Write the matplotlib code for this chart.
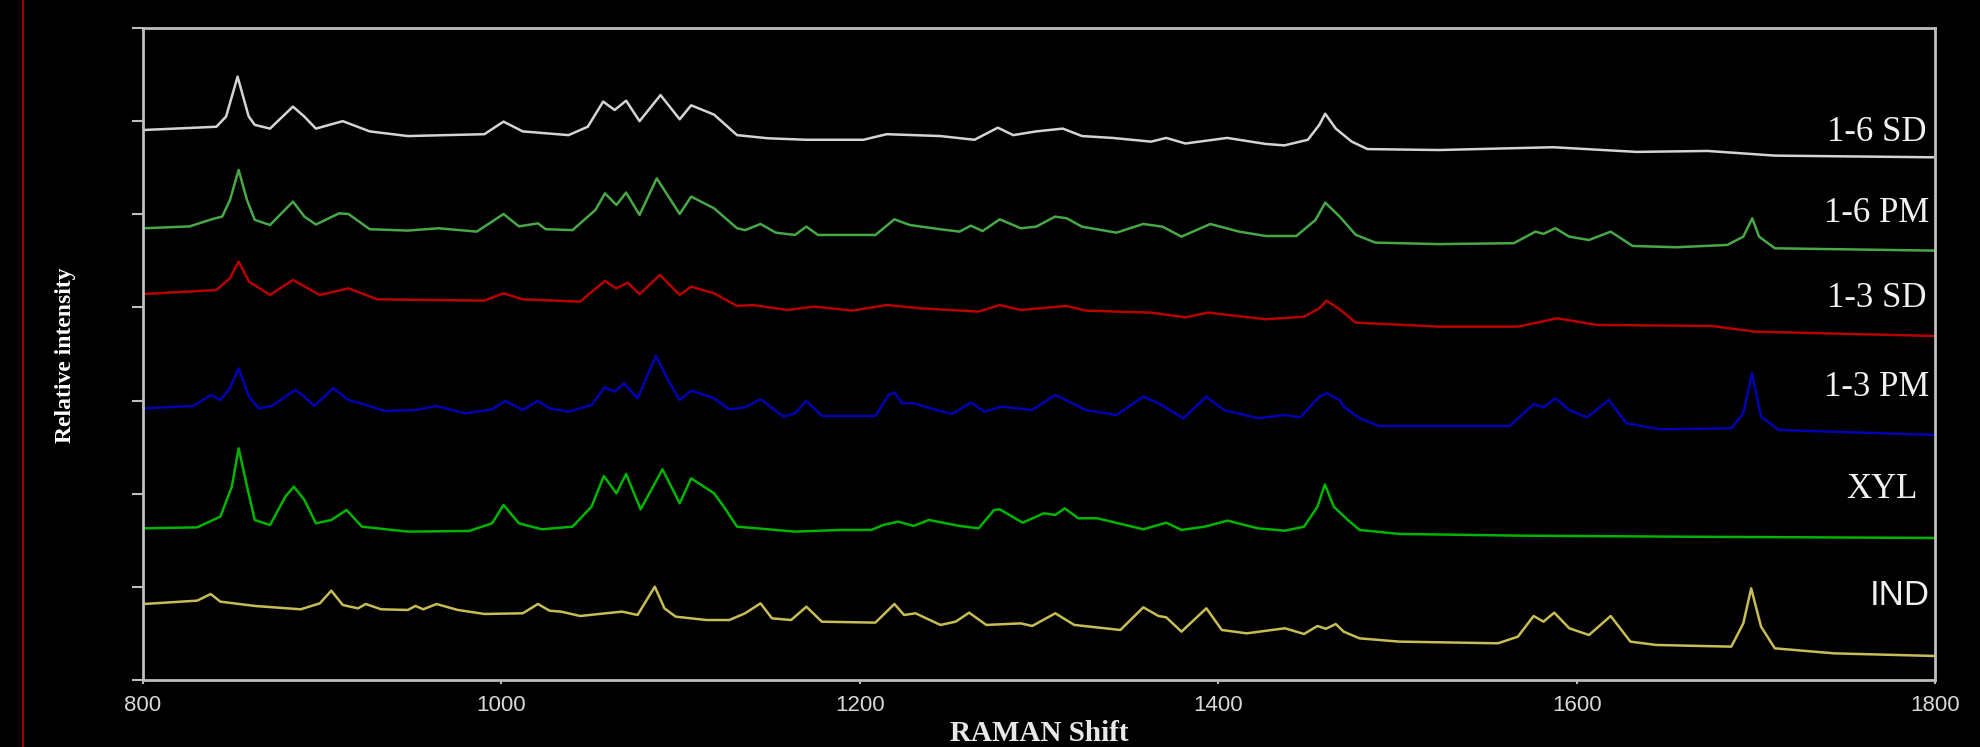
import numpy as np
import matplotlib
matplotlib.use('Agg')
import matplotlib.pyplot as plt
from matplotlib.lines import Line2D

# spectra: (Raman shift, stacked relative intensity)
sd16 = [(800.4, 5.905), (841, 5.94), (846.4, 6.05), (852.8, 6.478), (859, 6.05), (862.4, 5.96),
        (870.9, 5.92), (883.7, 6.156), (890, 6.05), (896.5, 5.92), (911.5, 6.00), (926.5, 5.89),
        (947.8, 5.84), (990.5, 5.86), (1001.2, 5.995), (1011.9, 5.89), (1037.5, 5.85), (1048.2, 5.94),
        (1056.8, 6.21), (1063.2, 6.12), (1069.6, 6.22), (1077.1, 6.00), (1088.8, 6.28), (1099.5, 6.02),
        (1105.9, 6.17), (1118.7, 6.07), (1131.5, 5.85), (1148.9, 5.816), (1170.2, 5.80), (1202, 5.80),
        (1215, 5.86), (1245, 5.84), (1264, 5.80), (1277, 5.93), (1285.6, 5.85), (1298.4, 5.89),
        (1313.3, 5.92), (1324, 5.84), (1341, 5.82), (1362.5, 5.78), (1371, 5.82), (1381.7, 5.76),
        (1405, 5.82), (1426.5, 5.755), (1437, 5.74), (1450, 5.80), (1456.4, 5.96), (1459.7, 6.08),
        (1465.6, 5.92), (1474.5, 5.78), (1483.3, 5.70), (1523, 5.69), (1587, 5.72), (1633.4, 5.67),
        (1673, 5.68), (1710.6, 5.63), (1799, 5.612)]

pm16 = [(800.4, 4.85), (826, 4.87), (839, 4.95), (844.2, 4.975), (848.5, 5.15), (853.4, 5.476),
        (858.1, 5.15), (862.4, 4.94), (870.9, 4.885), (883.7, 5.136), (890.1, 4.975), (896.5, 4.89),
        (909.4, 5.01), (914.7, 5.003), (926.5, 4.84), (947.8, 4.825), (964.9, 4.85), (986.3, 4.814),
        (1001.2, 5.003), (1009.8, 4.87), (1020.4, 4.903), (1024.7, 4.84), (1039.7, 4.83), (1052.5, 5.047),
        (1057.8, 5.225), (1064.2, 5.10), (1069.6, 5.233), (1077.1, 4.993), (1086.7, 5.386), (1099.5, 5.003),
        (1105.9, 5.19), (1118.7, 5.064), (1131.5, 4.85), (1136, 4.83), (1144.6, 4.896), (1153.1, 4.803),
        (1163.8, 4.778), (1170.2, 4.868), (1176.6, 4.778), (1208.7, 4.778), (1219.3, 4.946), (1227.9, 4.885),
        (1245, 4.839), (1255.7, 4.814), (1262, 4.878), (1268.5, 4.82), (1278.1, 4.946), (1289.8, 4.85),
        (1298.4, 4.867), (1309, 4.975), (1315.5, 4.957), (1324, 4.867), (1343.2, 4.803), (1358.2, 4.896),
        (1368.9, 4.867), (1379.5, 4.76), (1395.6, 4.896), (1411.6, 4.814), (1426.5, 4.767), (1443.6, 4.767),
        (1454.3, 4.94), (1459.7, 5.125), (1467.8, 4.975), (1476.7, 4.78), (1487.7, 4.696), (1523, 4.68),
        (1565, 4.69), (1577, 4.814), (1581.5, 4.79), (1588.1, 4.85), (1595.9, 4.76), (1606.9, 4.724),
        (1619, 4.814), (1631.2, 4.66), (1655.4, 4.646), (1684.1, 4.671), (1693, 4.76), (1698, 4.957),
        (1701.8, 4.76), (1710.6, 4.635), (1799, 4.61)]

sd13 = [(800.4, 4.144), (841, 4.187), (848.5, 4.313), (853.4, 4.492), (859.2, 4.277), (870.9, 4.134),
        (883.7, 4.295), (898.7, 4.134), (914.7, 4.205), (930.7, 4.087), (990.5, 4.073), (1001.2, 4.152),
        (1011.9, 4.087), (1043.9, 4.062), (1057.8, 4.284), (1064.2, 4.205), (1070.6, 4.266), (1077.1, 4.141),
        (1088.4, 4.349), (1099.5, 4.134), (1105.9, 4.223), (1118.7, 4.152), (1131.5, 4.016), (1140.3, 4.026),
        (1159.5, 3.973), (1174.5, 4.009), (1195.9, 3.966), (1215, 4.026), (1234.3, 3.99), (1266.3, 3.955),
        (1278.1, 4.026), (1289.8, 3.973), (1315.5, 4.016), (1326.1, 3.966), (1362.5, 3.944), (1381.7, 3.894),
        (1394.5, 3.944), (1426.5, 3.873), (1447.9, 3.901), (1456.4, 3.99), (1460.4, 4.073), (1467.8, 3.98),
        (1476.7, 3.837), (1523, 3.794), (1567.2, 3.794), (1589.2, 3.883), (1611.3, 3.812), (1675.3, 3.801),
        (1699.6, 3.74), (1799, 3.694)]

pm13 = [(800.4, 2.917), (828.2, 2.942), (837.8, 3.06), (843.2, 3.006), (848.5, 3.132), (853.4, 3.346),
        (859.2, 3.042), (864.5, 2.917), (872, 2.942), (884.8, 3.114), (890.1, 3.042), (895.5, 2.942),
        (906.2, 3.132), (914.7, 3.006), (924.3, 2.953), (935, 2.888), (952.1, 2.899), (963.8, 2.942),
        (979.9, 2.863), (994.8, 2.906), (1002.3, 2.996), (1011.9, 2.899), (1020.4, 2.996), (1026.9, 2.917),
        (1037.5, 2.881), (1050.3, 2.953), (1057.8, 3.142), (1063.2, 3.096), (1068.5, 3.185), (1071.7, 3.114),
        (1076, 3.024), (1086.2, 3.479), (1093, 3.221), (1099.5, 3.006), (1105.9, 3.107), (1118.7, 3.024),
        (1127.2, 2.906), (1136, 2.928), (1144.6, 3.014), (1157.4, 2.828), (1163.8, 2.863), (1170.2, 2.996),
        (1178.8, 2.835), (1208.7, 2.835), (1216.1, 3.06), (1219.3, 3.085), (1223.6, 2.971), (1230, 2.971),
        (1242.8, 2.899), (1251.4, 2.856), (1262.1, 2.978), (1269.5, 2.881), (1279.2, 2.935), (1296.2, 2.899),
        (1309.1, 3.06), (1326.1, 2.899), (1343.2, 2.845), (1358.2, 3.042), (1366.7, 2.971), (1380.6, 2.81),
        (1393.4, 3.042), (1403.1, 2.899), (1422.3, 2.81), (1437.2, 2.845), (1445.8, 2.82), (1456.4, 3.042),
        (1460.4, 3.078), (1467.8, 3.006), (1470, 2.935), (1478.9, 2.81), (1489.9, 2.727), (1562.7, 2.727),
        (1576, 2.963), (1581.5, 2.928), (1588.1, 3.024), (1595.9, 2.899), (1605.8, 2.82), (1617.9, 3.006),
        (1627.8, 2.756), (1646.6, 2.691), (1686.3, 2.702), (1693, 2.863), (1697.8, 3.293), (1702.9, 2.827),
        (1712.8, 2.684), (1799, 2.631)]

xyl = [(800.4, 1.628), (830.3, 1.639), (843.2, 1.754), (849.6, 2.076), (853.4, 2.487), (858.1, 2.076),
       (862.4, 1.718), (870.9, 1.664), (879.5, 1.969), (884.2, 2.076), (890.1, 1.933), (896.5, 1.682),
       (905.1, 1.718), (913.6, 1.825), (922.2, 1.646), (947.8, 1.593), (982, 1.6), (994.8, 1.682),
       (1001.2, 1.879), (1009.8, 1.682), (1022.6, 1.618), (1039.7, 1.646), (1050.3, 1.861), (1057.2, 2.19),
       (1064.2, 2.004), (1069.6, 2.212), (1077.7, 1.832), (1089.9, 2.262), (1099.5, 1.897), (1105.9, 2.165),
       (1118.7, 2.004), (1124.1, 1.861), (1131.5, 1.646), (1148.9, 1.618), (1163.8, 1.593), (1189.4, 1.611),
       (1206.5, 1.611), (1213, 1.664), (1221.5, 1.7), (1230, 1.654), (1238.6, 1.718), (1255.7, 1.654),
       (1266.3, 1.628), (1274.9, 1.825), (1278.1, 1.832), (1290.9, 1.689), (1302.7, 1.79), (1309.1, 1.772),
       (1314.4, 1.843), (1321.9, 1.736), (1332.6, 1.736), (1358.2, 1.618), (1371, 1.689), (1379.5, 1.611),
       (1392.4, 1.646), (1405.2, 1.711), (1422.3, 1.628), (1437.2, 1.603), (1447.9, 1.646), (1455.4, 1.861),
       (1459.5, 2.10), (1464.5, 1.861), (1472.3, 1.718), (1478.9, 1.611), (1501, 1.568), (1567.2, 1.55),
       (1655.4, 1.539), (1799, 1.525)]

ind = [(800.4, 0.816), (830.3, 0.852), (837.8, 0.923), (843.2, 0.841), (862.4, 0.795), (888, 0.759),
       (898.7, 0.823), (905.1, 0.959), (911.5, 0.805), (920, 0.769), (924.3, 0.816), (932.9, 0.759),
       (947.8, 0.752), (952.1, 0.795), (956.4, 0.759), (963.8, 0.816), (975.6, 0.752), (990.5, 0.709),
       (1011.9, 0.716), (1020.4, 0.816), (1026.9, 0.744), (1033.3, 0.734), (1044, 0.687), (1054.6, 0.709),
       (1067.4, 0.734), (1076, 0.698), (1085.6, 1.002), (1091, 0.769), (1097.3, 0.68), (1114.4, 0.644),
       (1127.2, 0.644), (1136, 0.716), (1144.6, 0.823), (1151, 0.662), (1161.7, 0.644), (1170.2, 0.787),
       (1178.8, 0.626), (1208.7, 0.616), (1219.3, 0.816), (1224.7, 0.698), (1231.1, 0.716), (1245, 0.591),
       (1253.5, 0.626), (1261, 0.723), (1270.6, 0.591), (1289.8, 0.608), (1296.2, 0.58), (1309.1, 0.716),
       (1319.7, 0.591), (1345.4, 0.537), (1358.2, 0.78), (1366.7, 0.687), (1371, 0.673), (1379.5, 0.519),
       (1393.4, 0.77), (1402, 0.537), (1415.9, 0.501), (1437.2, 0.555), (1447.9, 0.494), (1455.4, 0.58),
       (1460.1, 0.55), (1465.6, 0.601), (1470, 0.519), (1478.9, 0.447), (1501, 0.412), (1556.1, 0.394),
       (1567.2, 0.465), (1576, 0.687), (1581.5, 0.626), (1587.5, 0.723), (1595.9, 0.555), (1606.9, 0.483),
       (1619, 0.687), (1630, 0.412), (1644.4, 0.376), (1686.3, 0.358), (1693, 0.608), (1697.4, 0.984),
       (1702.9, 0.573), (1710.6, 0.34), (1743.7, 0.286), (1799, 0.258)]

names = ['1-6 SD', '1-6 PM', '1-3 SD', '1-3 PM', 'XYL', 'IND']
spectra = [sd16, pm16, sd13, pm13, xyl, ind]
shift_ticks = [800, 1000, 1200, 1400, 1600, 1800]

colors = ['#d4d4d4', '#48a848', '#b80000', '#0000b4', '#00b400', '#c8bc55']
label_y = [5.88, 5.01, 4.10, 3.135, 2.04, 0.91]
label_x = [1795, 1797, 1795, 1797, 1790, 1797]
label_font = ['Liberation Serif'] * 5 + ['Liberation Sans']

fig = plt.figure(figsize=(19.8, 7.47), dpi=100, facecolor='black')
ax = fig.add_axes([0.0722, 0.0897, 0.9051, 0.8728], facecolor='black')

for data, c in zip(spectra, colors):
    xy = np.array(data)
    ax.plot(xy[:, 0], xy[:, 1], color=c, lw=1.8, solid_joinstyle='round')

for name, x, y, f in zip(names, label_x, label_y, label_font):
    ax.text(x, y, name, ha='right', va='center', color='#f0f0f0', family=f, fontsize=25)

ax.set_xlim(800, 1800)
ax.set_ylim(0, 7)
ax.set_xticks(shift_ticks)
ax.set_yticks(range(8))
ax.set_yticklabels([])
for s in ax.spines.values():
    s.set_color('#bdbdbd')
    s.set_linewidth(2)
ax.tick_params(axis='y', direction='out', length=8, width=1.5, color='#bdbdbd')
ax.tick_params(axis='x', direction='out', length=3, width=1.5, color='#bdbdbd',
               labelcolor='#d8d8d8', labelsize=16, pad=8)
for t in ax.get_xticklabels():
    t.set_family('Liberation Sans')

fig.text(66 / 1980, 1 - 355 / 747, 'Relative intensity', rotation=90, ha='center', va='center',
         family='Liberation Serif', weight='bold', fontsize=17, color='white')
fig.text(1039 / 1980, 1 - 741 / 747, 'RAMAN Shift', ha='center', va='baseline',
         family='Liberation Serif', weight='bold', fontsize=21, color='#e8e8e8')

# thin red rule at the left edge of the slide
fig.add_artist(Line2D([23 / 1980, 23 / 1980], [0, 1], transform=fig.transFigure, color='#a00000', lw=1.5))

fig.savefig('out.png', dpi=100, facecolor='black')
